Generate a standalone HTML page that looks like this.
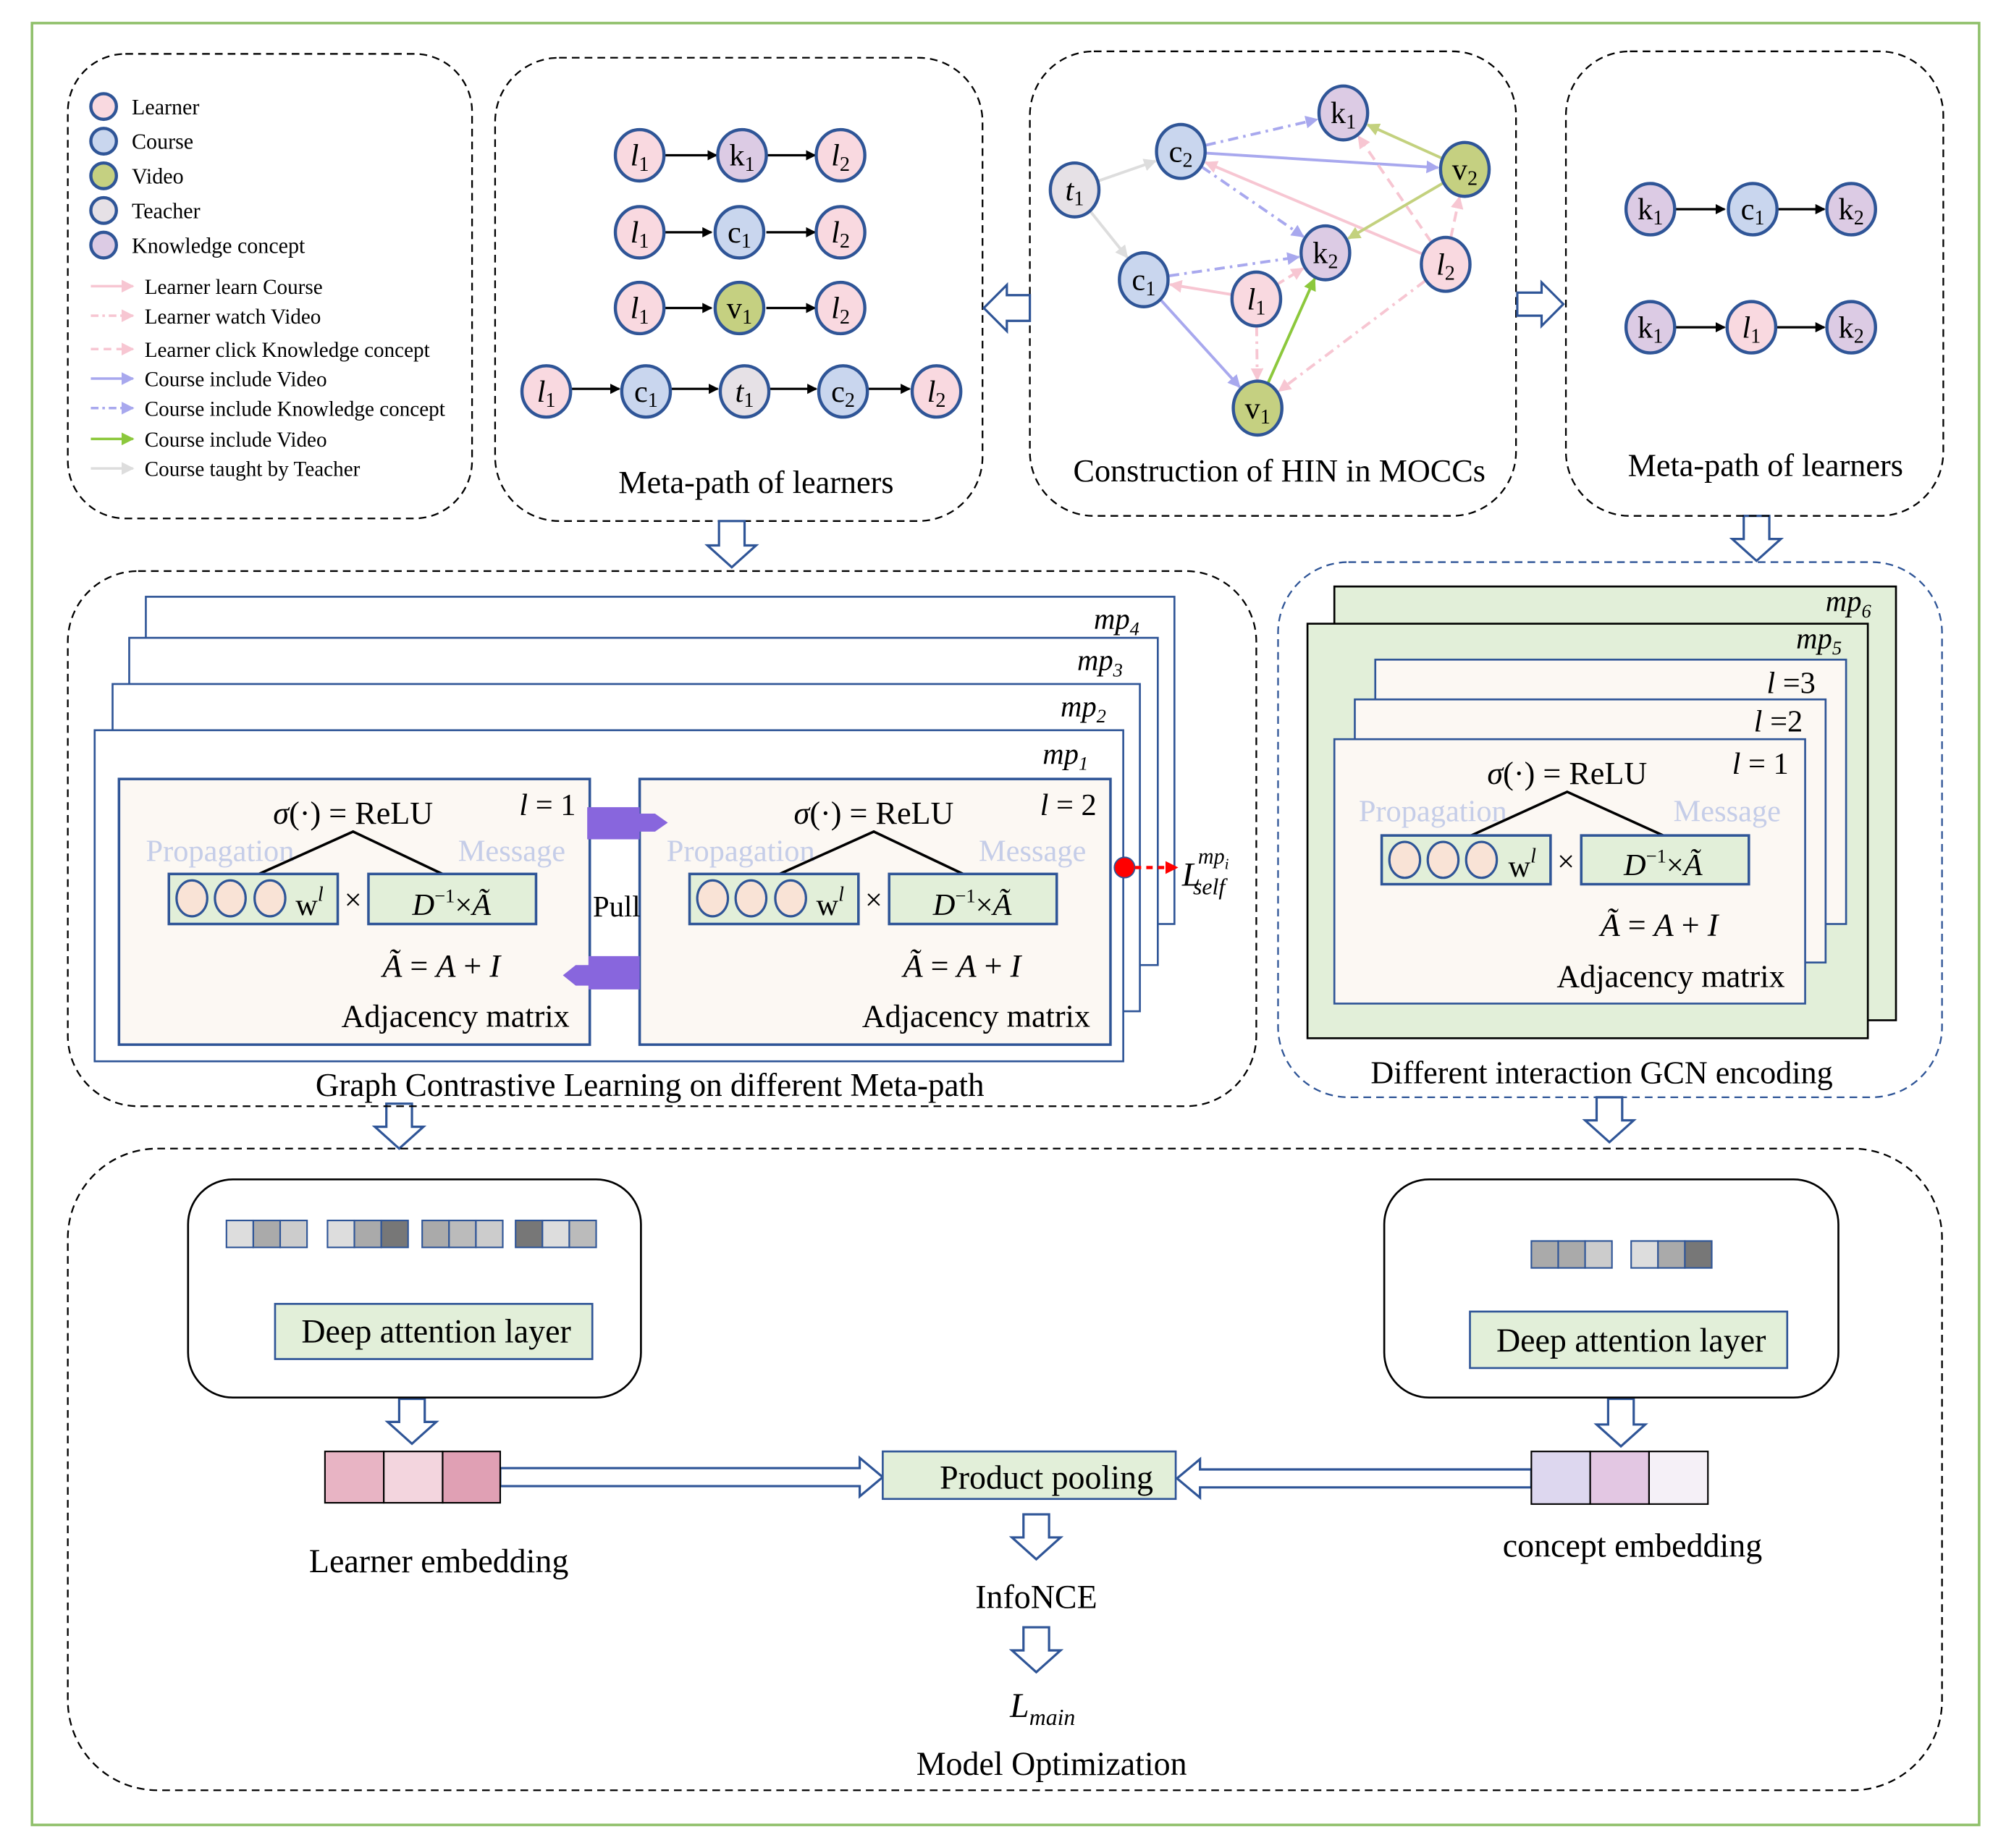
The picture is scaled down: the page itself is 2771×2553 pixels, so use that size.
<!DOCTYPE html>
<html><head><meta charset="utf-8"><style>
html,body{margin:0;padding:0;background:#fff}
svg{display:block}
text{font-family:"Liberation Serif",serif;fill:#000}
.m{font-style:italic}
</style></head><body>
<svg id="s" width="2771" height="2553" viewBox="0 0 1568 1440" preserveAspectRatio="none" xmlns="http://www.w3.org/2000/svg">
<defs>
<marker id="mk" markerWidth="8" markerHeight="8" refX="7" refY="4" orient="auto" markerUnits="userSpaceOnUse"><path d="M0,0 L8,4 L0,8 z" fill="#000"/></marker>
<marker id="mp" markerWidth="10" markerHeight="10" refX="9" refY="5" orient="auto" markerUnits="userSpaceOnUse"><path d="M0,0 L10,5 L0,10 z" fill="#f7c6d2"/></marker>
<marker id="ml" markerWidth="10" markerHeight="10" refX="9" refY="5" orient="auto" markerUnits="userSpaceOnUse"><path d="M0,0 L10,5 L0,10 z" fill="#a8a8ee"/></marker>
<marker id="mg" markerWidth="10" markerHeight="10" refX="9" refY="5" orient="auto" markerUnits="userSpaceOnUse"><path d="M0,0 L10,5 L0,10 z" fill="#c3d17e"/></marker>
<marker id="mG" markerWidth="10" markerHeight="10" refX="9" refY="5" orient="auto" markerUnits="userSpaceOnUse"><path d="M0,0 L10,5 L0,10 z" fill="#8cc83c"/></marker>
<marker id="my" markerWidth="10" markerHeight="10" refX="9" refY="5" orient="auto" markerUnits="userSpaceOnUse"><path d="M0,0 L10,5 L0,10 z" fill="#ddd"/></marker>
<marker id="mr" markerWidth="10" markerHeight="10" refX="9" refY="5" orient="auto" markerUnits="userSpaceOnUse"><path d="M0,0 L10,5 L0,10 z" fill="#f00"/></marker>
</defs>
<rect x="25" y="18" width="1522" height="1404" fill="none" stroke="#8fc06a" stroke-width="2"/>

<!-- Legend -->
<rect x="53" y="42" width="316" height="362" rx="45" fill="none" stroke="#000" stroke-dasharray="6,4" stroke-width="1.3"/>
<g stroke="#2f5597" stroke-width="2.5">
<circle cx="81" cy="83" r="10" fill="#f9d9e0"/><circle cx="81" cy="110" r="10" fill="#c9d6ee"/><circle cx="81" cy="137" r="10" fill="#c5d081"/><circle cx="81" cy="164" r="10" fill="#e6e1e6"/><circle cx="81" cy="191" r="10" fill="#dccbe4"/>
</g>
<g font-size="17"><text x="103" y="89">Learner</text><text x="103" y="116">Course</text><text x="103" y="143">Video</text><text x="103" y="170">Teacher</text><text x="103" y="197">Knowledge concept</text></g>
<g font-size="16.5"><text x="113" y="229">Learner learn Course</text><text x="113" y="252">Learner watch Video</text><text x="113" y="278">Learner click Knowledge concept</text><text x="113" y="301">Course include Video</text><text x="113" y="324">Course include Knowledge concept</text><text x="113" y="348">Course include Video</text><text x="113" y="371">Course taught by Teacher</text></g>
<g stroke-width="2">
<line x1="71" y1="223" x2="104" y2="223" stroke="#f7c6d2" marker-end="url(#mp)"/>
<line x1="71" y1="246" x2="104" y2="246" stroke="#f7c6d2" stroke-dasharray="6,3,2,3" marker-end="url(#mp)"/>
<line x1="71" y1="272" x2="104" y2="272" stroke="#f7c6d2" stroke-dasharray="6,4" marker-end="url(#mp)"/>
<line x1="71" y1="295" x2="104" y2="295" stroke="#a8a8ee" marker-end="url(#ml)"/>
<line x1="71" y1="318" x2="104" y2="318" stroke="#a8a8ee" stroke-dasharray="6,3,2,3" marker-end="url(#ml)"/>
<line x1="71" y1="342" x2="104" y2="342" stroke="#8cc83c" marker-end="url(#mG)"/>
<line x1="71" y1="365" x2="104" y2="365" stroke="#ddd" marker-end="url(#my)"/>
</g>

<!-- Meta-path box 1 -->
<rect x="387" y="45" width="381" height="361" rx="50" fill="none" stroke="#000" stroke-dasharray="6,4" stroke-width="1.3"/>
<g stroke="#000" stroke-width="1.8">
<line x1="519" y1="121" x2="560" y2="121" marker-end="url(#mk)"/><line x1="599" y1="121" x2="637" y2="121" marker-end="url(#mk)"/>
<line x1="519" y1="181" x2="556" y2="181" marker-end="url(#mk)"/><line x1="599" y1="181" x2="637" y2="181" marker-end="url(#mk)"/>
<line x1="519" y1="240" x2="556" y2="240" marker-end="url(#mk)"/><line x1="599" y1="240" x2="637" y2="240" marker-end="url(#mk)"/>
<line x1="446" y1="303" x2="484" y2="303" marker-end="url(#mk)"/><line x1="525" y1="303" x2="561" y2="303" marker-end="url(#mk)"/><line x1="602" y1="303" x2="638" y2="303" marker-end="url(#mk)"/><line x1="679" y1="303" x2="711" y2="303" marker-end="url(#mk)"/>
</g>
<g stroke="#2f5597" stroke-width="2.5">
<ellipse cx="500" cy="121" rx="19" ry="20" fill="#f9d9e0"/><ellipse cx="580" cy="121" rx="19" ry="20" fill="#dccbe4"/><ellipse cx="657" cy="121" rx="19" ry="20" fill="#f9d9e0"/>
<ellipse cx="500" cy="181" rx="19" ry="20" fill="#f9d9e0"/><ellipse cx="578" cy="181" rx="19" ry="20" fill="#c9d6ee"/><ellipse cx="657" cy="181" rx="19" ry="20" fill="#f9d9e0"/>
<ellipse cx="500" cy="240" rx="19" ry="20" fill="#f9d9e0"/><ellipse cx="578" cy="240" rx="19" ry="20" fill="#c5d081"/><ellipse cx="657" cy="240" rx="19" ry="20" fill="#f9d9e0"/>
<ellipse cx="427" cy="305" rx="19" ry="20" fill="#f9d9e0"/><ellipse cx="505" cy="305" rx="19" ry="20" fill="#c9d6ee"/><ellipse cx="582" cy="305" rx="19" ry="20" fill="#e6e1e6"/><ellipse cx="659" cy="305" rx="19" ry="20" fill="#c9d6ee"/><ellipse cx="732" cy="305" rx="19" ry="20" fill="#f9d9e0"/>
</g>
<g font-size="24" text-anchor="middle">
<text x="500" y="129"><tspan class="m">l</tspan><tspan font-size="16" dy="4">1</tspan></text><text x="580" y="129">k<tspan font-size="16" dy="4">1</tspan></text><text x="657" y="129"><tspan class="m">l</tspan><tspan font-size="16" dy="4">2</tspan></text>
<text x="500" y="189"><tspan class="m">l</tspan><tspan font-size="16" dy="4">1</tspan></text><text x="578" y="189">c<tspan font-size="16" dy="4">1</tspan></text><text x="657" y="189"><tspan class="m">l</tspan><tspan font-size="16" dy="4">2</tspan></text>
<text x="500" y="248"><tspan class="m">l</tspan><tspan font-size="16" dy="4">1</tspan></text><text x="578" y="248">v<tspan font-size="16" dy="4">1</tspan></text><text x="657" y="248"><tspan class="m">l</tspan><tspan font-size="16" dy="4">2</tspan></text>
<text x="427" y="313"><tspan class="m">l</tspan><tspan font-size="16" dy="4">1</tspan></text><text x="505" y="313">c<tspan font-size="16" dy="4">1</tspan></text><text x="582" y="313"><tspan class="m">t</tspan><tspan font-size="16" dy="4">1</tspan></text><text x="659" y="313">c<tspan font-size="16" dy="4">2</tspan></text><text x="732" y="313"><tspan class="m">l</tspan><tspan font-size="16" dy="4">2</tspan></text>
</g>
<text x="591" y="384" font-size="25" text-anchor="middle">Meta-path of learners</text>

<!-- HIN box -->
<rect x="805" y="40" width="380" height="362" rx="50" fill="none" stroke="#000" stroke-dasharray="6,4" stroke-width="1.3"/>
<g id="edges" stroke-width="2.2" fill="none"></g>
<g stroke="#2f5597" stroke-width="2.5">
<ellipse cx="840" cy="148" rx="19" ry="21" fill="#e6e1e6"/><ellipse cx="923" cy="118" rx="19" ry="21" fill="#c9d6ee"/><ellipse cx="1050" cy="88" rx="19" ry="21" fill="#dccbe4"/><ellipse cx="1145" cy="132" rx="19" ry="21" fill="#c5d081"/><ellipse cx="1036" cy="197" rx="19" ry="21" fill="#dccbe4"/><ellipse cx="1130" cy="206" rx="19" ry="21" fill="#f9d9e0"/><ellipse cx="894" cy="218" rx="19" ry="21" fill="#c9d6ee"/><ellipse cx="982" cy="233" rx="19" ry="21" fill="#f9d9e0"/><ellipse cx="983" cy="318" rx="19" ry="21" fill="#c5d081"/>
</g>
<g font-size="24" text-anchor="middle">
<text x="840" y="156"><tspan class="m">t</tspan><tspan font-size="16" dy="4">1</tspan></text><text x="923" y="126">c<tspan font-size="16" dy="4">2</tspan></text><text x="1050" y="96">k<tspan font-size="16" dy="4">1</tspan></text><text x="1145" y="140">v<tspan font-size="16" dy="4">2</tspan></text><text x="1036" y="205">k<tspan font-size="16" dy="4">2</tspan></text><text x="1130" y="214"><tspan class="m">l</tspan><tspan font-size="16" dy="4">2</tspan></text><text x="894" y="226">c<tspan font-size="16" dy="4">1</tspan></text><text x="982" y="241"><tspan class="m">l</tspan><tspan font-size="16" dy="4">1</tspan></text><text x="983" y="326">v<tspan font-size="16" dy="4">1</tspan></text>
</g>
<text x="1000" y="375" font-size="25" text-anchor="middle">Construction of HIN in MOCCs</text>

<!-- hollow arrows -->
<g fill="#fff" stroke="#2f5597" stroke-width="1.8">
<polygon points="805,230 787,230 787,222 769,240 787,258 787,250 805,250"/>
<polygon points="1186,228 1205,228 1205,220 1222,237 1205,254 1205,246 1186,246"/>
<polygon points="562,406 582,406 582,425 591,425 572,442 553,425 562,425"/>
<polygon points="1363,402 1383,402 1383,420 1392,420 1373,437 1354,420 1363,420"/>
<polygon points="302,860 322,860 322,878 331,878 312,895 293,878 302,878"/>
<polygon points="1248,855 1268,855 1268,873 1277,873 1258,890 1239,873 1248,873"/>
<polygon points="312,1090 332,1090 332,1108 341,1108 322,1125 303,1108 312,1108"/>
<polygon points="1257,1090 1277,1090 1277,1110 1286,1110 1267,1127 1248,1110 1257,1110"/>
<polygon points="800,1180 820,1180 820,1198 829,1198 810,1215 791,1198 800,1198"/>
<polygon points="800,1268 820,1268 820,1286 829,1286 810,1303 791,1286 800,1286"/>
<polygon points="391,1144 672,1144 672,1136 690,1151 672,1166 672,1158 391,1158"/>
<polygon points="1197,1145 938,1145 938,1137 920,1152 938,1167 938,1159 1197,1159"/>
</g>

<!-- Meta-path box 2 -->
<rect x="1224" y="40" width="295" height="362" rx="50" fill="none" stroke="#000" stroke-dasharray="6,4" stroke-width="1.3"/>
<g stroke="#000" stroke-width="1.8">
<line x1="1309" y1="163" x2="1348" y2="163" marker-end="url(#mk)"/><line x1="1389" y1="163" x2="1426" y2="163" marker-end="url(#mk)"/>
<line x1="1309" y1="255" x2="1348" y2="255" marker-end="url(#mk)"/><line x1="1388" y1="255" x2="1426" y2="255" marker-end="url(#mk)"/>
</g>
<g stroke="#2f5597" stroke-width="2.5">
<ellipse cx="1290" cy="163" rx="19" ry="20" fill="#dccbe4"/><ellipse cx="1370" cy="163" rx="19" ry="20" fill="#c9d6ee"/><ellipse cx="1447" cy="163" rx="19" ry="20" fill="#dccbe4"/>
<ellipse cx="1290" cy="255" rx="19" ry="20" fill="#dccbe4"/><ellipse cx="1369" cy="255" rx="19" ry="20" fill="#f9d9e0"/><ellipse cx="1447" cy="255" rx="19" ry="20" fill="#dccbe4"/>
</g>
<g font-size="24" text-anchor="middle">
<text x="1290" y="171">k<tspan font-size="16" dy="4">1</tspan></text><text x="1370" y="171">c<tspan font-size="16" dy="4">1</tspan></text><text x="1447" y="171">k<tspan font-size="16" dy="4">2</tspan></text>
<text x="1290" y="263">k<tspan font-size="16" dy="4">1</tspan></text><text x="1369" y="263"><tspan class="m">l</tspan><tspan font-size="16" dy="4">1</tspan></text><text x="1447" y="263">k<tspan font-size="16" dy="4">2</tspan></text>
</g>
<text x="1380" y="371" font-size="25" text-anchor="middle">Meta-path of learners</text>

<!-- GCL box -->
<rect x="53" y="445" width="929" height="417" rx="55" fill="none" stroke="#000" stroke-dasharray="6,4" stroke-width="1.3"/>
<g fill="#fff" stroke="#2f5597" stroke-width="1.5">
<rect x="114" y="465" width="804" height="255"/><rect x="101" y="497" width="804" height="255"/><rect x="88" y="533" width="803" height="255"/><rect x="74" y="569" width="804" height="258"/>
</g>
<g font-size="23" font-style="italic">
<text x="855" y="490">mp<tspan font-size="15" dy="5">4</tspan></text><text x="842" y="522">mp<tspan font-size="15" dy="5">3</tspan></text><text x="829" y="558">mp<tspan font-size="15" dy="5">2</tspan></text><text x="815" y="595">mp<tspan font-size="15" dy="5">1</tspan></text>
</g>
<g>
<rect x="93" y="607" width="368" height="207" fill="#fcf8f3" stroke="#2f5597" stroke-width="2"/>
<text x="276" y="642" font-size="25" text-anchor="middle"><tspan class="m">σ</tspan>(·) = ReLU</text>
<text x="428" y="635" font-size="24" text-anchor="middle"><tspan class="m">l</tspan> = 1</text>
<text x="172" y="671" font-size="24" text-anchor="middle" style="fill:#c5cde8">Propagation</text>
<text x="400" y="671" font-size="24" text-anchor="middle" style="fill:#c5cde8">Message</text>
<polyline points="198,683 276,648 350,683" fill="none" stroke="#000" stroke-width="2"/>
<rect x="132" y="681" width="132" height="39" fill="#e2efd9" stroke="#2f5597" stroke-width="2"/>
<g fill="#f9e3d6" stroke="#2f5597" stroke-width="1.8"><ellipse cx="150" cy="700" rx="12" ry="14"/><ellipse cx="180" cy="700" rx="12" ry="14"/><ellipse cx="211" cy="700" rx="12" ry="14"/></g>
<text x="231" y="713" font-size="24">w<tspan font-size="16" dy="-11" class="m">l</tspan></text>
<text x="276" y="709" font-size="24" text-anchor="middle">×</text>
<rect x="288" y="681" width="131" height="39" fill="#e2efd9" stroke="#2f5597" stroke-width="2"/>
<text x="353" y="713" font-size="24" text-anchor="middle"><tspan class="m">D</tspan><tspan font-size="15" dy="-10">−1</tspan><tspan dy="10">×</tspan><tspan class="m">Ã</tspan></text>
<text x="345" y="761" font-size="25" text-anchor="middle"><tspan class="m">Ã</tspan> = <tspan class="m">A</tspan> + <tspan class="m">I</tspan></text>
<text x="356" y="800" font-size="25" text-anchor="middle">Adjacency matrix</text>
</g>
<g>
<rect x="500" y="607" width="368" height="207" fill="#fcf8f3" stroke="#2f5597" stroke-width="2"/>
<text x="683" y="642" font-size="25" text-anchor="middle"><tspan class="m">σ</tspan>(·) = ReLU</text>
<text x="835" y="635" font-size="24" text-anchor="middle"><tspan class="m">l</tspan> = 2</text>
<text x="579" y="671" font-size="24" text-anchor="middle" style="fill:#c5cde8">Propagation</text>
<text x="807" y="671" font-size="24" text-anchor="middle" style="fill:#c5cde8">Message</text>
<polyline points="605,683 683,648 757,683" fill="none" stroke="#000" stroke-width="2"/>
<rect x="539" y="681" width="132" height="39" fill="#e2efd9" stroke="#2f5597" stroke-width="2"/>
<g fill="#f9e3d6" stroke="#2f5597" stroke-width="1.8"><ellipse cx="557" cy="700" rx="12" ry="14"/><ellipse cx="587" cy="700" rx="12" ry="14"/><ellipse cx="618" cy="700" rx="12" ry="14"/></g>
<text x="638" y="713" font-size="24">w<tspan font-size="16" dy="-11" class="m">l</tspan></text>
<text x="683" y="709" font-size="24" text-anchor="middle">×</text>
<rect x="695" y="681" width="131" height="39" fill="#e2efd9" stroke="#2f5597" stroke-width="2"/>
<text x="760" y="713" font-size="24" text-anchor="middle"><tspan class="m">D</tspan><tspan font-size="15" dy="-10">−1</tspan><tspan dy="10">×</tspan><tspan class="m">Ã</tspan></text>
<text x="752" y="761" font-size="25" text-anchor="middle"><tspan class="m">Ã</tspan> = <tspan class="m">A</tspan> + <tspan class="m">I</tspan></text>
<text x="763" y="800" font-size="25" text-anchor="middle">Adjacency matrix</text>
</g>
<g fill="#8866dd">
<polygon points="459,629 500,629 500,634 512,634 522,641 512,648 500,648 500,654 459,654"/>
<polygon points="500,745 460,745 460,752 450,752 440,760 450,768 460,768 460,771 500,771"/>
</g>
<text x="482" y="714" font-size="23" text-anchor="middle">Pull</text>
<circle cx="879" cy="676" r="8" fill="#f00" stroke="#2f5597" stroke-width="1"/>
<line x1="887" y1="676" x2="920" y2="676" stroke="#f00" stroke-width="2.5" stroke-dasharray="5,4" marker-end="url(#mr)"/>
<text x="924" y="690" font-size="26" class="m">L<tspan font-size="17" dy="-17" dx="-2">mp</tspan><tspan font-size="12" dy="4">i</tspan><tspan font-size="18" dx="-28" dy="20">self</tspan></text>
<text x="508" y="854" font-size="25.5" text-anchor="middle">Graph Contrastive Learning on different Meta-path</text>

<!-- GCN box -->
<rect x="999" y="438" width="519" height="417" rx="55" fill="none" stroke="#2f5597" stroke-dasharray="6,4" stroke-width="1.3"/>
<g fill="#e2efd9" stroke="#000" stroke-width="1.5"><rect x="1043" y="457" width="439" height="338"/><rect x="1022" y="486" width="438" height="323"/></g>
<g font-size="23" font-style="italic"><text x="1427" y="476">mp<tspan font-size="15" dy="5">6</tspan></text><text x="1404" y="505">mp<tspan font-size="15" dy="5">5</tspan></text></g>
<g fill="#fcf8f3" stroke="#2f5597" stroke-width="1.5"><rect x="1075" y="514" width="368" height="206"/><rect x="1059" y="545" width="368" height="205"/><rect x="1043" y="576" width="368" height="206"/></g>
<g font-size="24" text-anchor="middle"><text x="1400" y="540"><tspan class="m">l</tspan> =3</text><text x="1390" y="570"><tspan class="m">l</tspan> =2</text><text x="1376" y="603"><tspan class="m">l</tspan> = 1</text></g>
<text x="1225" y="611" font-size="25" text-anchor="middle"><tspan class="m">σ</tspan>(·) = ReLU</text>
<text x="1120" y="640" font-size="24" text-anchor="middle" style="fill:#c5cde8">Propagation</text>
<text x="1350" y="640" font-size="24" text-anchor="middle" style="fill:#c5cde8">Message</text>
<polyline points="1150,651 1225,617 1300,651" fill="none" stroke="#000" stroke-width="2"/>
<rect x="1080" y="651" width="132" height="38" fill="#e2efd9" stroke="#2f5597" stroke-width="2"/>
<g fill="#f9e3d6" stroke="#2f5597" stroke-width="1.8"><ellipse cx="1098" cy="670" rx="12" ry="14"/><ellipse cx="1128" cy="670" rx="12" ry="14"/><ellipse cx="1158" cy="670" rx="12" ry="14"/></g>
<text x="1179" y="683" font-size="24">w<tspan font-size="16" dy="-11" class="m">l</tspan></text>
<text x="1224" y="679" font-size="24" text-anchor="middle">×</text>
<rect x="1236" y="651" width="131" height="38" fill="#e2efd9" stroke="#2f5597" stroke-width="2"/>
<text x="1300" y="682" font-size="24" text-anchor="middle"><tspan class="m">D</tspan><tspan font-size="15" dy="-10">−1</tspan><tspan dy="10">×</tspan><tspan class="m">Ã</tspan></text>
<text x="1297" y="729" font-size="25" text-anchor="middle"><tspan class="m">Ã</tspan> = <tspan class="m">A</tspan> + <tspan class="m">I</tspan></text>
<text x="1306" y="769" font-size="25" text-anchor="middle">Adjacency matrix</text>
<text x="1252" y="844" font-size="25" text-anchor="middle">Different interaction GCN encoding</text>

<!-- Bottom -->
<rect x="53" y="895" width="1465" height="500" rx="70" fill="none" stroke="#000" stroke-dasharray="6,4" stroke-width="1.3"/>
<rect x="147" y="919" width="354" height="170" rx="35" fill="none" stroke="#000" stroke-width="1.5"/>
<rect x="1082" y="919" width="355" height="170" rx="35" fill="none" stroke="#000" stroke-width="1.5"/>
<g stroke="#2f5597" stroke-width="1.2">
<rect x="177" y="951" width="21" height="21" fill="#ddd"/><rect x="198" y="951" width="21" height="21" fill="#aaa"/><rect x="219" y="951" width="21" height="21" fill="#ccc"/>
<rect x="256" y="951" width="21" height="21" fill="#ddd"/><rect x="277" y="951" width="21" height="21" fill="#aaa"/><rect x="298" y="951" width="21" height="21" fill="#777"/>
<rect x="330" y="951" width="21" height="21" fill="#aaa"/><rect x="351" y="951" width="21" height="21" fill="#bbb"/><rect x="372" y="951" width="21" height="21" fill="#ccc"/>
<rect x="403" y="951" width="21" height="21" fill="#777"/><rect x="424" y="951" width="21" height="21" fill="#ddd"/><rect x="445" y="951" width="21" height="21" fill="#bbb"/>
<rect x="1197" y="967" width="21" height="21" fill="#aaa"/><rect x="1218" y="967" width="21" height="21" fill="#aaa"/><rect x="1239" y="967" width="21" height="21" fill="#ccc"/>
<rect x="1275" y="967" width="21" height="21" fill="#ddd"/><rect x="1296" y="967" width="21" height="21" fill="#aaa"/><rect x="1317" y="967" width="21" height="21" fill="#777"/>
</g>
<rect x="215" y="1016" width="248" height="43" fill="#e2efd9" stroke="#2f5597" stroke-width="1.5"/>
<text x="341" y="1046" font-size="26" text-anchor="middle">Deep attention layer</text>
<rect x="1149" y="1022" width="248" height="44" fill="#e2efd9" stroke="#2f5597" stroke-width="1.5"/>
<text x="1275" y="1053" font-size="26" text-anchor="middle">Deep attention layer</text>
<g stroke="#000" stroke-width="1.2">
<rect x="254" y="1131" width="46" height="40" fill="#e8b4c4"/><rect x="300" y="1131" width="46" height="40" fill="#f3d5de"/><rect x="346" y="1131" width="45" height="40" fill="#e0a0b4"/>
<rect x="1197" y="1131" width="46" height="41" fill="#ddd7ef"/><rect x="1243" y="1131" width="46" height="41" fill="#e3c7e3"/><rect x="1289" y="1131" width="46" height="41" fill="#f5f0f7"/>
</g>
<rect x="690" y="1131" width="229" height="37" fill="#e2efd9" stroke="#2f5597" stroke-width="1.5"/>
<text x="818" y="1160" font-size="26" text-anchor="middle">Product pooling</text>
<text x="343" y="1225" font-size="26" text-anchor="middle">Learner embedding</text>
<text x="1276" y="1213" font-size="26" text-anchor="middle">concept embedding</text>
<text x="810" y="1253" font-size="26" text-anchor="middle">InfoNCE</text>
<text x="815" y="1338" font-size="27" text-anchor="middle" class="m">L<tspan font-size="18" dy="6">main</tspan></text>
<text x="822" y="1383" font-size="26" text-anchor="middle">Model  Optimization</text>
</svg>
<script>
var N={t1:[840,148],c2:[923,118],k1:[1050,88],v2:[1145,132],k2:[1036,197],l2:[1130,206],c1:[894,218],l1:[982,233],v1:[983,318]};
var C={p:"#f7c6d2",l:"#a8a8ee",g:"#c3d17e",G:"#8cc83c",y:"#ddd"};
var E=[["t1","c2","y",""],["t1","c1","y",""],["c2","k1","l","8,4,2,4"],["c2","v2","l",""],["c2","k2","l","8,4,2,4"],["l2","c2","p",""],["v2","k1","g",""],["v2","k2","g",""],["l2","k1","p","8,5"],["l2","v2","p","8,5"],["c1","k2","l","8,4,2,4"],["l1","c1","p",""],["l1","k2","p","6,4"],["c1","v1","l",""],["l1","v1","p","8,4,2,4"],["v1","k2","G",""],["l2","v1","p","8,4,2,4"]];
var g=document.getElementById("edges"),ns="http://www.w3.org/2000/svg";
E.forEach(function(e){var a=N[e[0]],b=N[e[1]],dx=b[0]-a[0],dy=b[1]-a[1],d=Math.hypot(dx,dy),ux=dx/d,uy=dy/d;
var l=document.createElementNS(ns,"line");l.setAttribute("x1",a[0]+ux*20);l.setAttribute("y1",a[1]+uy*21);l.setAttribute("x2",b[0]-ux*21);l.setAttribute("y2",b[1]-uy*22);
l.setAttribute("stroke",C[e[2]]);if(e[3])l.setAttribute("stroke-dasharray",e[3]);l.setAttribute("marker-end","url(#m"+e[2]+")");g.appendChild(l);});
</script>
</body></html>
